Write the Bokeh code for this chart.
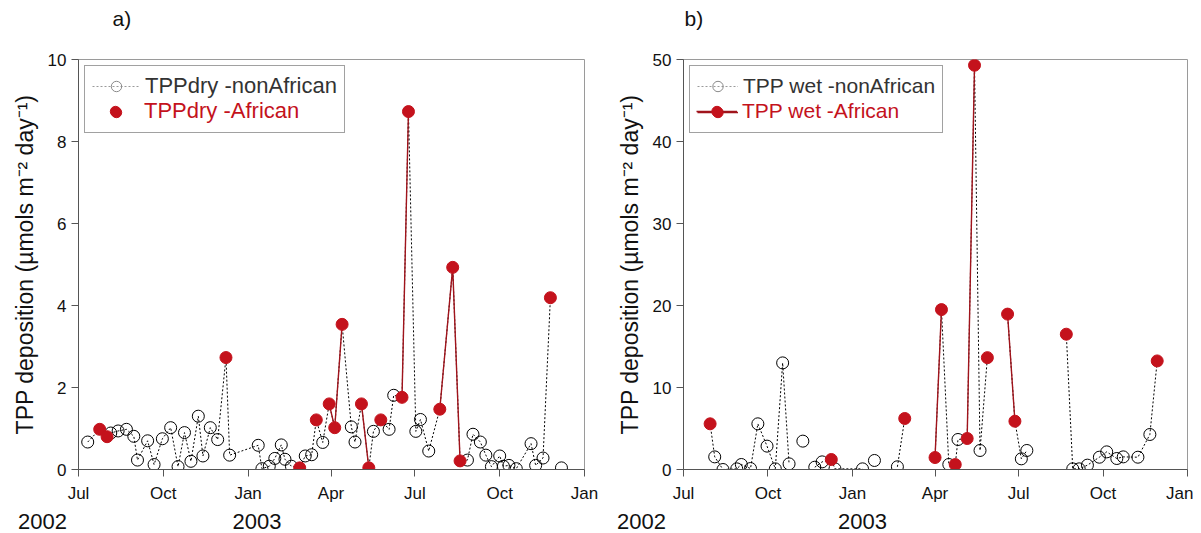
import numpy as np
import pandas as pd
from bokeh.plotting import figure
from bokeh.layouts import row, column
from bokeh.models import (Range1d, FixedTicker, DatetimeTickFormatter, Legend,
                          LegendItem, Label)
from bokeh.embed import file_html
from bokeh.resources import INLINE

# ------------------------------------------------------------------ data
dry_dates = ["2002-07-11", "2002-07-24", "2002-08-01", "2002-08-05", "2002-08-13",
             "2002-08-22", "2002-08-30", "2002-09-03", "2002-09-14", "2002-09-21",
             "2002-09-30", "2002-10-09", "2002-10-17", "2002-10-24", "2002-10-31",
             "2002-11-08", "2002-11-13", "2002-11-21", "2002-11-29", "2002-12-08",
             "2002-12-12", "2003-01-12", "2003-01-16", "2003-01-24", "2003-01-30",
             "2003-02-06", "2003-02-10", "2003-02-17", "2003-02-26", "2003-03-04",
             "2003-03-11", "2003-03-16", "2003-03-23", "2003-03-30", "2003-04-05",
             "2003-04-13", "2003-04-23", "2003-04-27", "2003-05-04", "2003-05-12",
             "2003-05-17", "2003-05-25", "2003-06-03", "2003-06-08", "2003-06-17",
             "2003-06-24", "2003-07-02", "2003-07-07", "2003-07-16", "2003-07-28",
             "2003-08-11", "2003-08-19", "2003-08-27", "2003-09-02", "2003-09-10",
             "2003-09-16", "2003-09-22", "2003-10-01", "2003-10-05", "2003-10-11",
             "2003-10-19", "2003-11-04", "2003-11-09", "2003-11-17", "2003-11-25",
             "2003-12-07"]
dry_values = [0.67, 0.98, 0.80, 0.89, 0.94, 0.98, 0.81, 0.23, 0.70, 0.12,
              0.75, 1.02, 0.07, 0.90, 0.20, 1.30, 0.33, 1.02, 0.73, 2.73,
              0.35, 0.59, 0.02, 0.08, 0.27, 0.60, 0.25, 0.08, 0.04, 0.33,
              0.36, 1.21, 0.66, 1.60, 1.02, 3.54, 1.04, 0.67, 1.60, 0.04,
              0.93, 1.21, 0.98, 1.81, 1.76, 8.73, 0.93, 1.22, 0.45, 1.47,
              4.93, 0.21, 0.23, 0.86, 0.67, 0.35, 0.07, 0.33, 0.08, 0.10,
              0.02, 0.63, 0.10, 0.28, 4.19, 0.04]
dry_african = [0, 1, 1, 0, 0, 0, 0, 0, 0, 0,
               0, 0, 0, 0, 0, 0, 0, 0, 0, 1,
               0, 0, 0, 0, 0, 0, 0, 0, 1, 0,
               0, 1, 0, 1, 1, 1, 0, 0, 1, 1,
               0, 1, 0, 0, 1, 1, 0, 0, 0, 1,
               1, 1, 0, 0, 0, 0, 0, 0, 0, 0,
               0, 0, 0, 0, 1, 0]
dry_breaks_before = ["2003-12-07"]

wet_dates = ["2002-07-30", "2002-08-04", "2002-08-13", "2002-08-28", "2002-09-02",
             "2002-09-12", "2002-09-20", "2002-09-30", "2002-10-09", "2002-10-17",
             "2002-10-24", "2002-11-08", "2002-11-21", "2002-11-29", "2002-12-09",
             "2002-12-13", "2003-01-12", "2003-01-25", "2003-02-19", "2003-02-27",
             "2003-04-01", "2003-04-08", "2003-04-16", "2003-04-23", "2003-04-26",
             "2003-05-06", "2003-05-14", "2003-05-20", "2003-05-28", "2003-06-19",
             "2003-06-27", "2003-07-04", "2003-07-10", "2003-08-22", "2003-08-29",
             "2003-09-05", "2003-09-14", "2003-09-27", "2003-10-05", "2003-10-16",
             "2003-10-23", "2003-11-08", "2003-11-21", "2003-11-29"]
wet_values = [5.57, 1.54, 0.0, 0.08, 0.61, 0.12, 5.57, 2.85, 0.08, 13.0,
              0.69, 3.46, 0.28, 0.93, 1.22, 0.08, 0.08, 1.1, 0.33, 6.22,
              1.46, 19.5, 0.61, 0.6, 3.66, 3.78, 49.3, 2.32, 13.64, 18.95,
              5.89, 1.3, 2.32, 16.5, 0.08, 0.08, 0.53, 1.5, 2.15, 1.34,
              1.54, 1.5, 4.27, 13.24]
wet_african = [1, 0, 0, 0, 0, 0, 0, 0, 0, 0,
               0, 0, 0, 0, 1, 0, 0, 0, 0, 1,
               1, 1, 0, 1, 0, 1, 1, 0, 1, 1,
               1, 0, 0, 1, 0, 0, 0, 0, 0, 0,
               0, 0, 0, 1]
wet_breaks_before = ["2002-11-08", "2002-11-21", "2003-01-25", "2003-02-19",
                     "2003-04-01", "2003-06-19", "2003-08-22"]

month_ticks = ["2002-07-01", "2002-10-01", "2003-01-01", "2003-04-01",
               "2003-07-01", "2003-10-01", "2004-01-01"]
year_labels = ["2002", "2003"]
year_anchor = ["2002-07-01", "2003-01-01"]
panel_tags = ["a)", "b)"]
dry_ticks = [0, 2, 4, 6, 8, 10]
wet_ticks = [0, 10, 20, 30, 40, 50]
y_label = "TPP deposition (µmols m\u207b\u00b2 day\u207b\u00b9)"

# ------------------------------------------------------------------ layout
RED = "#C4121C"
RED_LINE = "#A0141C"
FONT = "Liberation Sans"
TOP_H = 46          # strip holding a) / b)
FRAME_TOP = 13
FRAME_H = 410
FRAME_BOTTOM = 35
BOT_H = 29          # strip holding the years
# panel geometry: (min_border_left, frame_width, min_border_right)
GEOM = [(78, 506, 24), (75, 504, 6)]
TOTAL_W = sum(sum(g) for g in GEOM)


def to_ms(ds):
    return (pd.to_datetime(ds).astype("int64") // 10**6).astype(float).to_numpy()


X0, X1 = to_ms([month_ticks[0], month_ticks[-1]])


def line_arrays(dates, vals, afr, breaks, african_only):
    x = to_ms(dates)
    brk = set(to_ms(breaks)) if breaks else set()
    xs, ys = [], []
    for i in range(len(x)):
        if i > 0 and x[i] in brk:
            xs.append((x[i] + x[i - 1]) / 2)
            ys.append(np.nan)
        xs.append(x[i])
        ys.append(np.nan if (african_only and not afr[i]) else vals[i])
    return np.array(xs), np.array(ys, dtype=float)


def make_panel(dates, vals, afr, breaks, ticks, lab_na, lab_af, geom,
               glyph_w, leg_font, af_line_in_legend):
    bl, fw, br = geom
    ymax = ticks[-1]
    p = figure(x_axis_type="datetime", x_range=Range1d(X0, X1),
               y_range=Range1d(0, ymax), frame_width=fw,
               frame_height=FRAME_H, min_border_left=bl,
               min_border_right=br, min_border_top=FRAME_TOP,
               min_border_bottom=FRAME_BOTTOM, toolbar_location=None,
               output_backend="svg")
    p.title.text = ""
    p.grid.visible = False
    p.outline_line_color = "#9a9a9a"
    p.background_fill_color = "white"
    p.border_fill_color = "white"

    for ax in (p.xaxis[0], p.yaxis[0]):
        ax.axis_line_color = "#555555"
        ax.major_tick_line_color = "#555555"
        ax.major_tick_out = 7
        ax.major_tick_in = 0
        ax.minor_tick_line_color = None
        ax.major_label_text_font = FONT
        ax.major_label_text_font_size = "17px"
        ax.major_label_text_color = "#111111"
    p.xaxis[0].ticker = FixedTicker(ticks=list(to_ms(month_ticks)))
    fmt = "%b"
    p.xaxis[0].formatter = DatetimeTickFormatter(
        milliseconds=fmt, seconds=fmt, minsec=fmt, minutes=fmt, hourmin=fmt,
        hours=fmt, days=fmt, months=fmt, years=fmt)
    p.xaxis[0].major_label_standoff = 7
    p.yaxis[0].ticker = FixedTicker(ticks=ticks)
    p.yaxis[0].major_label_standoff = 5
    p.yaxis[0].axis_label = y_label
    p.yaxis[0].axis_label_text_font = FONT
    p.yaxis[0].axis_label_text_font_size = "23px"
    p.yaxis[0].axis_label_text_font_style = "normal"
    p.yaxis[0].axis_label_text_color = "#111111"
    p.yaxis[0].axis_label_standoff = 7

    # whole series: dotted black line
    lx, ly = line_arrays(dates, vals, afr, breaks, False)
    p.line(lx, ly, line_color="black", line_dash="2 2", line_width=1)
    # consecutive African samples: solid red line
    rx, ry = line_arrays(dates, vals, afr, breaks, True)
    p.line(rx, ry, line_color=RED_LINE, line_width=1.4)

    x = to_ms(dates)
    v = np.array(vals, dtype=float)
    a = np.array(afr, dtype=bool)
    p.scatter(x[~a], v[~a], marker="circle", size=12, fill_alpha=0,
              line_color="black", line_width=1)
    p.scatter(x[a], v[a], marker="circle", size=12, fill_color=RED,
              line_color=RED, line_width=1)

    # legend-only renderers (no visible data)
    nan_x, nan_y = [X0], [np.nan]
    dummy = p.scatter([], [], marker="circle", size=1, fill_alpha=0,
                      line_alpha=0)
    na_l = p.line(nan_x, nan_y, line_color="#9a9a9a", line_dash="2 2",
                  line_width=1)
    na_p = p.scatter(nan_x, nan_y, marker="circle", size=8, fill_alpha=0,
                     line_color="#8a8a8a", line_width=1)
    af_p = p.scatter(nan_x, nan_y, marker="circle", size=9,
                     fill_color=RED, line_color=RED)
    af_items = [af_p]
    if af_line_in_legend:
        af_items = [p.line(nan_x, nan_y, line_color=RED_LINE,
                           line_width=1.4), af_p]

    common = dict(location="top_left", margin=6, padding=7, spacing=0,
                  label_height=26, glyph_height=26, glyph_width=glyph_w,
                  label_standoff=5, label_text_font=FONT,
                  label_text_font_size=leg_font)
    leg_main = Legend(items=[LegendItem(label=lab_na, renderers=[na_l, na_p]),
                             LegendItem(label=" ", renderers=af_items)],
                      border_line_color="#444444", border_line_width=1.5,
                      background_fill_color="white", background_fill_alpha=1,
                      label_text_color="#333333", **common)
    leg_red = Legend(items=[LegendItem(label=" ", renderers=[dummy]),
                            LegendItem(label=lab_af, renderers=af_items)],
                     border_line_alpha=0, background_fill_alpha=0,
                     label_text_color=RED, **common)
    p.add_layout(leg_main, "center")
    p.add_layout(leg_red, "center")
    return p


def strip(height):
    s = figure(width=TOTAL_W, height=height, x_range=Range1d(0, TOTAL_W),
               y_range=Range1d(0, height), toolbar_location=None,
               output_backend="svg", min_border=0, min_border_left=0,
               min_border_right=0, min_border_top=0, min_border_bottom=0)
    s.axis.visible = False
    s.grid.visible = False
    s.outline_line_color = None
    s.title.text = ""
    return s


def page_x(panel_idx, date_ms):
    left = sum(sum(g) for g in GEOM[:panel_idx]) + GEOM[panel_idx][0]
    fw = GEOM[panel_idx][1]
    return left + (date_ms - X0) / (X1 - X0) * fw


p1 = make_panel(dry_dates, dry_values, dry_african, dry_breaks_before,
                dry_ticks, "TPPdry -nonAfrican", "TPPdry -African", GEOM[0],
                48, "22px", False)
p2 = make_panel(wet_dates, wet_values, wet_african, wet_breaks_before,
                wet_ticks, "TPP wet -nonAfrican", "TPP wet -African", GEOM[1],
                41, "21px", True)

top = strip(TOP_H)
tag_dx = [34, 1]
for i, tag in enumerate(panel_tags):
    top.add_layout(Label(x=page_x(i, X0) + tag_dx[i], y=TOP_H - 18, text=tag,
                         text_font=FONT, text_font_size="21px",
                         text_color="#111111", text_baseline="middle",
                         text_align="left"))

bottom = strip(BOT_H)
year_dx = [[-36, 9], [-42, 10]]
ya = to_ms(year_anchor)
for i in range(2):
    for lab, xa, dx in zip(year_labels, ya, year_dx[i]):
        bottom.add_layout(Label(x=page_x(i, xa) + dx, y=BOT_H / 2 - 1,
                                text=lab, text_font=FONT,
                                text_font_size="22px", text_color="#111111",
                                text_baseline="middle", text_align="center"))

layout = column(top, row(p1, p2), bottom)
open("out.html", "w").write(file_html(layout, INLINE))
